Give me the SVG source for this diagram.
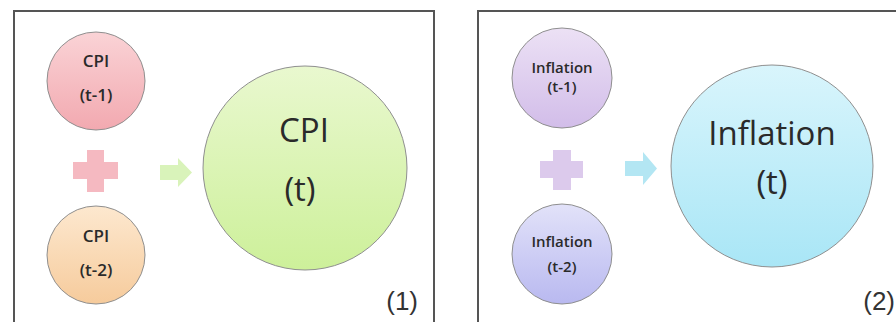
<svg xmlns="http://www.w3.org/2000/svg" width="896" height="322" viewBox="0 0 896 322">
  <defs>
    <linearGradient id="gPink" x1="0" y1="0" x2="0" y2="1">
      <stop offset="0" stop-color="#fad3d6"/>
      <stop offset="1" stop-color="#f2a9b0"/>
    </linearGradient>
    <linearGradient id="gPeach" x1="0" y1="0" x2="0" y2="1">
      <stop offset="0" stop-color="#fde8cf"/>
      <stop offset="1" stop-color="#f6cb9c"/>
    </linearGradient>
    <linearGradient id="gGreen" x1="0" y1="0" x2="0" y2="1">
      <stop offset="0" stop-color="#e9f8cf"/>
      <stop offset="1" stop-color="#cdf09a"/>
    </linearGradient>
    <linearGradient id="gLav" x1="0" y1="0" x2="0" y2="1">
      <stop offset="0" stop-color="#ece1f5"/>
      <stop offset="1" stop-color="#d2bde9"/>
    </linearGradient>
    <linearGradient id="gBlue" x1="0" y1="0" x2="0" y2="1">
      <stop offset="0" stop-color="#e2e2f9"/>
      <stop offset="1" stop-color="#b9b9f0"/>
    </linearGradient>
    <linearGradient id="gCyan" x1="0" y1="0" x2="0" y2="1">
      <stop offset="0" stop-color="#d9f5fc"/>
      <stop offset="1" stop-color="#a9e6f6"/>
    </linearGradient>
  </defs>
  <style>
    .frame { fill: none; stroke: #555; stroke-width: 2; }
    .node { stroke: #8f8f8f; stroke-width: 1; }
    .t { font-family: "Open Sans", "Liberation Sans", sans-serif; fill: #2a2a2a; text-anchor: middle; }
    .s { font-size: 17px; font-weight: 600; }
    .si { font-size: 15px; font-weight: 600; }
    .b { font-size: 33px; }
    .lbl { font-family: "Liberation Sans", "Open Sans", sans-serif; font-size: 26px; fill: #333; }
  </style>
  <rect width="896" height="322" fill="#ffffff"/>

  <!-- Panel 1 -->
  <g id="panel1">
    <rect class="frame" x="14" y="11" width="420" height="330"/>
    <text class="lbl" x="418" y="310" text-anchor="end">(1)</text>
  </g>
  <g id="cpi_t1">
    <circle class="node" cx="96" cy="81" r="49" fill="url(#gPink)"/>
    <text class="t s" x="96" y="67">CPI</text>
    <text class="t s" x="96" y="101">(t-1)</text>
  </g>
  <g id="cpi_t2">
    <circle class="node" cx="96" cy="255" r="49" fill="url(#gPeach)"/>
    <text class="t s" x="96" y="242">CPI</text>
    <text class="t s" x="96" y="276">(t-2)</text>
  </g>
  <g id="cpi_t">
    <circle class="node" cx="305" cy="168" r="102" fill="url(#gGreen)"/>
    <text class="t b" x="304" y="142">CPI</text>
    <text class="t b" x="300" y="201">(t)</text>
  </g>

  <!-- Panel 2 -->
  <g id="panel2">
    <rect class="frame" x="478" y="11" width="440" height="330"/>
    <text class="lbl" x="895" y="310" text-anchor="end">(2)</text>
  </g>
  <g id="inf_t1">
    <circle class="node" cx="562" cy="78" r="50" fill="url(#gLav)"/>
    <text class="t si" x="562" y="73">Inflation</text>
    <text class="t si" x="562" y="92">(t-1)</text>
  </g>
  <g id="inf_t2">
    <circle class="node" cx="562" cy="254" r="50" fill="url(#gBlue)"/>
    <text class="t si" x="562" y="247">Inflation</text>
    <text class="t si" x="562" y="272">(t-2)</text>
  </g>
  <g id="inf_t">
    <circle class="node" cx="772" cy="166" r="101" fill="url(#gCyan)"/>
    <text class="t b" x="772" y="145">Inflation</text>
    <text class="t b" x="772" y="194">(t)</text>
  </g>

  <!-- Connectors: plus signs and arrows -->
  <g id="connectors">
    <path d="M87,150 H104 V162 H118 V179 H104 V192 H87 V179 H73 V162 H87 Z" fill="#f5b9c1"/>
    <path d="M160,165 H178 V158 L192,172.5 L178,187 V180 H160 Z" fill="#d9f3ba"/>
    <path d="M553,150 H571 V161 H583 V178 H571 V190 H553 V178 H540 V161 H553 Z" fill="#dccaec"/>
    <path d="M625,161 H643 V152 L657,168.5 L643,185 V176 H625 Z" fill="#b3e6f3"/>
  </g>
</svg>
